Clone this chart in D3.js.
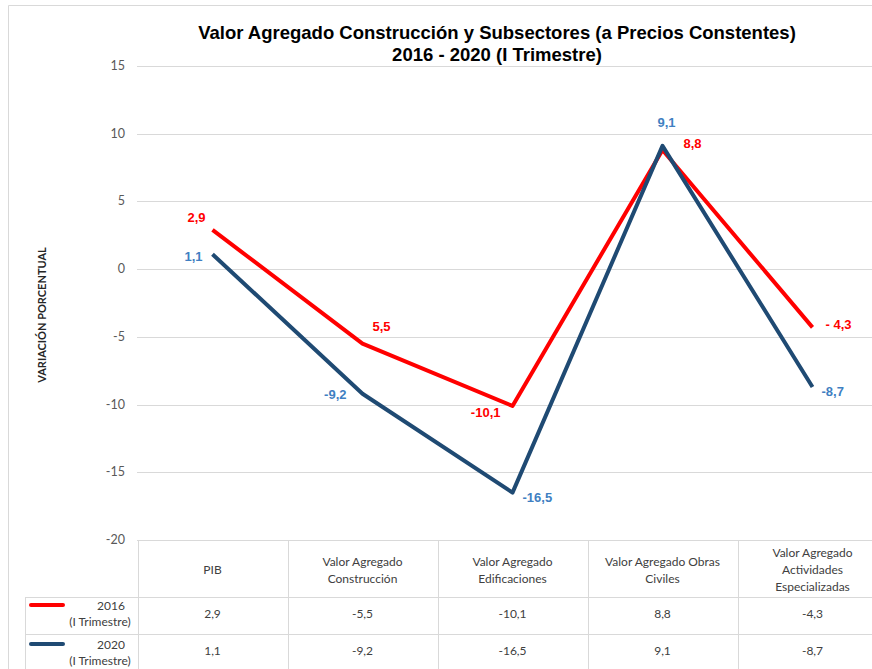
<!DOCTYPE html>
<html>
<head>
<meta charset="utf-8">
<title>Valor Agregado Construcción</title>
<script src="https://d3js.org/d3.v7.min.js"></script>
<style>
  body { margin: 0; background: #fff; }
  svg text { font-family: Lato, "Liberation Sans", sans-serif; }
  .title { font-family: "Liberation Sans", Arial, sans-serif !important; font-weight: bold; font-size: 18.5px; fill: #000; }
  .tick-lbl { font-size: 12.5px; fill: #595959; }
  .cell { font-size: 12px; fill: #404040; }
  .dlabel { font-family: "Liberation Sans", Arial, sans-serif !important; font-weight: bold; font-size: 13px; }
</style>
</head>
<body>
<svg width="872" height="669"></svg>
<script>
// datos
var categorias = ["PIB", "Valor Agregado Construcción", "Valor Agregado Edificaciones", "Valor Agregado Obras Civiles", "Valor Agregado Actividades Especializadas"];
var encabezados = [["PIB"], ["Valor Agregado", "Construcción"], ["Valor Agregado", "Edificaciones"], ["Valor Agregado Obras", "Civiles"], ["Valor Agregado", "Actividades", "Especializadas"]];
var serie2016 = [2.9, -5.5, -10.1, 8.8, -4.3];
var serie2020 = [1.1, -9.2, -16.5, 9.1, -8.7];
var etiquetas2016 = ["2,9", "5,5", "-10,1", "8,8", "- 4,3"];
var etiquetas2020 = ["1,1", "-9,2", "-16,5", "9,1", "-8,7"];
var tabla2016 = ["2,9", "-5,5", "-10,1", "8,8", "-4,3"];
var tabla2020 = ["1,1", "-9,2", "-16,5", "9,1", "-8,7"];
var ticksY = [15, 10, 5, 0, -5, -10, -15, -20];

var svg = d3.select("svg");
var rojo = "#ff0000", azul = "#1f4a73", azulTxt = "#3f7fc2", grid = "#d9d9d9";

var x = d3.scaleBand().domain(categorias).range([137.5, 887.5]).padding(0);
var y = d3.scaleLinear().domain([-20, 15]).range([540, 66]);
var cx = function(i) { return x(categorias[i]) + x.bandwidth() / 2; };

// marco
svg.append("path").attr("d", "M8.5,669V5.5H872").attr("fill", "none").attr("stroke", grid);

// título
svg.append("text").attr("class", "title").attr("x", 497).attr("y", 39).attr("text-anchor", "middle")
  .text("Valor Agregado Construcción y Subsectores (a Precios Constentes)");
svg.append("text").attr("class", "title").attr("x", 497).attr("y", 61).attr("text-anchor", "middle")
  .text("2016 - 2020 (I Trimestre)");

// rejilla y ticks
var gy = svg.append("g");
gy.selectAll("line").data(ticksY).enter().append("line")
  .attr("x1", 137).attr("x2", 872)
  .attr("y1", function(d) { return Math.round(y(d)) + 0.5; })
  .attr("y2", function(d) { return Math.round(y(d)) + 0.5; })
  .attr("stroke", grid);
gy.selectAll("text").data(ticksY).enter().append("text")
  .attr("class", "tick-lbl").attr("x", 125).attr("y", function(d) { return y(d) + 4; })
  .attr("text-anchor", "end").text(function(d) { return d; });

svg.append("text").attr("transform", "translate(46,315) rotate(-90)")
  .attr("text-anchor", "middle").style("font-size", "11px").style("font-weight", "bold").style("fill", "#262626")
  .text("VARIACIÓN PORCENTUAL");

// líneas
var linea = d3.line().x(function(d, i) { return cx(i); }).y(function(d) { return y(d); });
svg.append("path").datum(serie2016).attr("d", linea).attr("fill", "none")
  .attr("stroke", rojo).attr("stroke-width", 4).attr("stroke-linejoin", "round");
svg.append("path").datum(serie2020).attr("d", linea).attr("fill", "none")
  .attr("stroke", azul).attr("stroke-width", 4).attr("stroke-linejoin", "round");

// etiquetas de datos (desplazamientos)
var off2016 = [[-16, -8, "middle"], [10, -13, "start"], [-12, 11, "end"], [30, -2, "middle"], [13, 2, "start"]];
var off2020 = [[-10, 7, "end"], [-16, 5, "end"], [10, 9, "start"], [4, -19, "middle"], [9, 9, "start"]];
svg.selectAll(".l16").data(serie2016).enter().append("text").attr("class", "dlabel")
  .attr("x", function(d, i) { return cx(i) + off2016[i][0]; })
  .attr("y", function(d, i) { return y(d) + off2016[i][1]; })
  .attr("text-anchor", function(d, i) { return off2016[i][2]; })
  .attr("fill", rojo).text(function(d, i) { return etiquetas2016[i]; });
svg.selectAll(".l20").data(serie2020).enter().append("text").attr("class", "dlabel")
  .attr("x", function(d, i) { return cx(i) + off2020[i][0]; })
  .attr("y", function(d, i) { return y(d) + off2020[i][1]; })
  .attr("text-anchor", function(d, i) { return off2020[i][2]; })
  .attr("fill", azulTxt).text(function(d, i) { return etiquetas2020[i]; });

// tabla de datos
var tb = svg.append("g");
var bordes = x.domain().map(function(c) { return x(c); }).concat([887.5]);
bordes.forEach(function(b) {
  tb.append("line").attr("x1", Math.round(b) + 0.5).attr("x2", Math.round(b) + 0.5)
    .attr("y1", 540).attr("y2", 669).attr("stroke", grid);
});
[597.5, 634.5].forEach(function(yy) {
  tb.append("line").attr("x1", 25).attr("x2", 872).attr("y1", yy).attr("y2", yy).attr("stroke", grid);
});
tb.append("line").attr("x1", 25.5).attr("x2", 25.5).attr("y1", 597).attr("y2", 669).attr("stroke", grid);

encabezados.forEach(function(lines, i) {
  var y0 = 574 - (lines.length - 1) * 8.5;
  lines.forEach(function(t, k) {
    tb.append("text").attr("class", "cell").attr("x", cx(i)).attr("y", y0 + k * 17)
      .attr("text-anchor", "middle").text(t);
  });
});
tb.selectAll(".t16").data(tabla2016).enter().append("text").attr("class", "cell")
  .attr("x", function(d, i) { return cx(i); }).attr("y", 618).attr("text-anchor", "middle").text(function(d) { return d; });
tb.selectAll(".t20").data(tabla2020).enter().append("text").attr("class", "cell")
  .attr("x", function(d, i) { return cx(i); }).attr("y", 655).attr("text-anchor", "middle").text(function(d) { return d; });

// leyenda de filas
[["2016", rojo, 605], ["2020", azul, 644]].forEach(function(r) {
  tb.append("line").attr("x1", 31).attr("x2", 63).attr("y1", r[2]).attr("y2", r[2])
    .attr("stroke", r[1]).attr("stroke-width", 4).attr("stroke-linecap", "round");
  tb.append("text").attr("class", "cell").attr("x", 111).attr("y", r[2] + 5).attr("text-anchor", "middle").text(r[0]);
  tb.append("text").attr("class", "cell").attr("x", 100).attr("y", r[2] + 21).attr("text-anchor", "middle").text("(I Trimestre)");
});
</script>
</body>
</html>
